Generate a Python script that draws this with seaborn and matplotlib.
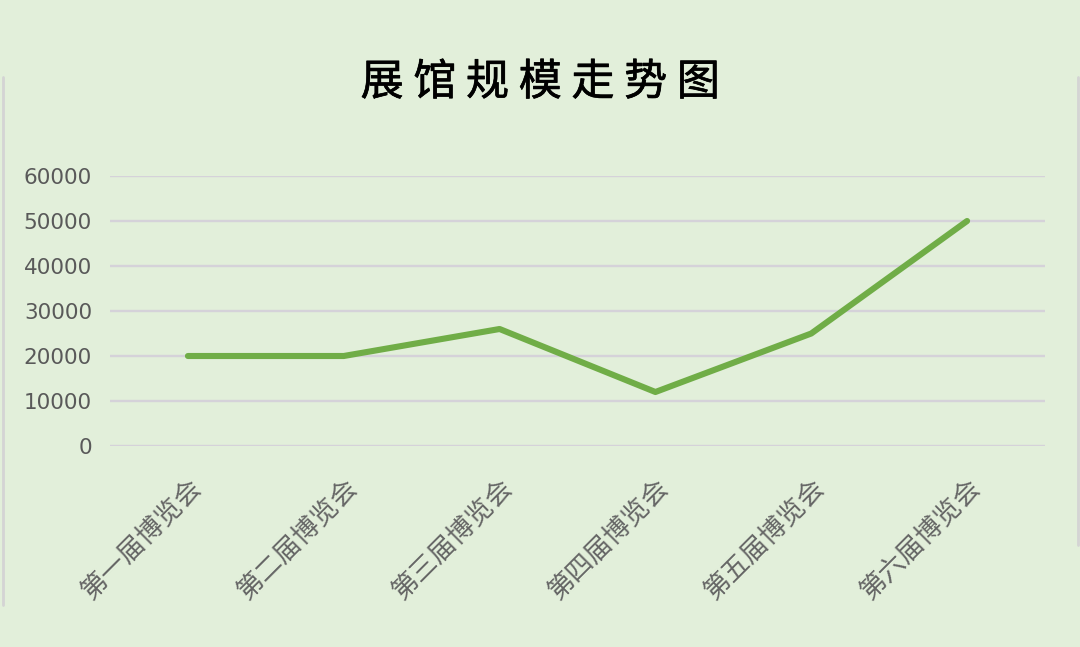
import matplotlib
matplotlib.use("Agg")
import matplotlib.pyplot as plt
import matplotlib.transforms as mtransforms
import matplotlib.patheffects as pe
from matplotlib.lines import Line2D
import seaborn as sns
import pandas as pd

# ---- data ----
categories = ["第一届博览会", "第二届博览会", "第三届博览会", "第四届博览会", "第五届博览会", "第六届博览会"]
scale_values = [20000, 20000, 26000, 12000, 25000, 50000]
y_ticks = [0, 10000, 20000, 30000, 40000, 50000, 60000]
title_text = "展 馆 规 模 走 势 图"

BG = "#E2EFDA"
LINE = "#70AD47"
GRID = "#D5D2D9"
TXT = "#595959"

sns.set_theme(style="white")
plt.rcParams['font.family'] = ['Noto Sans CJK SC', 'DejaVu Sans']

df = pd.DataFrame({"cat": categories, "val": scale_values})

fig = plt.figure(figsize=(10.8, 6.47), dpi=100, facecolor=BG)
ax = fig.add_axes([110 / 1080, 1 - 446 / 647, 935 / 1080, 270 / 647])
ax.set_facecolor(BG)

sns.lineplot(data=df, x="cat", y="val", sort=False, color=LINE, linewidth=4.4,
             solid_capstyle="round", solid_joinstyle="round", ax=ax, zorder=3)

ax.set_xlim(-0.5, len(categories) - 0.5)
ax.set_ylim(0, 60000)
ax.set_yticks(y_ticks)
ax.set_yticklabels([str(v) for v in y_ticks], fontsize=15.5, color=TXT, family="DejaVu Sans")
ax.yaxis.grid(True, color=GRID, linewidth=1.7)
ax.xaxis.grid(False)
ax.tick_params(axis="both", length=0)
ax.tick_params(axis="y", pad=13)
ax.tick_params(axis="x", pad=20)
for s in ax.spines.values():
    s.set_visible(False)
ax.set_xlabel("")
ax.set_ylabel("")

offset = mtransforms.ScaledTranslation(0.19, 0, fig.dpi_scale_trans)
for lbl in ax.get_xticklabels():
    lbl.set_rotation(45)
    lbl.set_ha("right")
    lbl.set_va("top")
    lbl.set_fontsize(19)
    lbl.set_color("#666666")
    lbl.set_transform(lbl.get_transform() + offset)

fig.text(0.5, 1 - 83 / 647, title_text, ha="center", va="center",
         fontsize=31, color="black", fontweight="normal",
         path_effects=[pe.withStroke(linewidth=0.5, foreground="black")])

# faint frame edges of the original chart area
fig.add_artist(Line2D([2.5 / 1080, 2.5 / 1080], [1 - 77 / 647, 1 - 605 / 647],
                      transform=fig.transFigure, color="#D4D4D4", linewidth=2))
fig.add_artist(Line2D([1077.5 / 1080, 1077.5 / 1080], [1 - 77 / 647, 1 - 545 / 647],
                      transform=fig.transFigure, color="#D4D4D4", linewidth=2))

fig.savefig("out.png", dpi=100, facecolor=BG)
